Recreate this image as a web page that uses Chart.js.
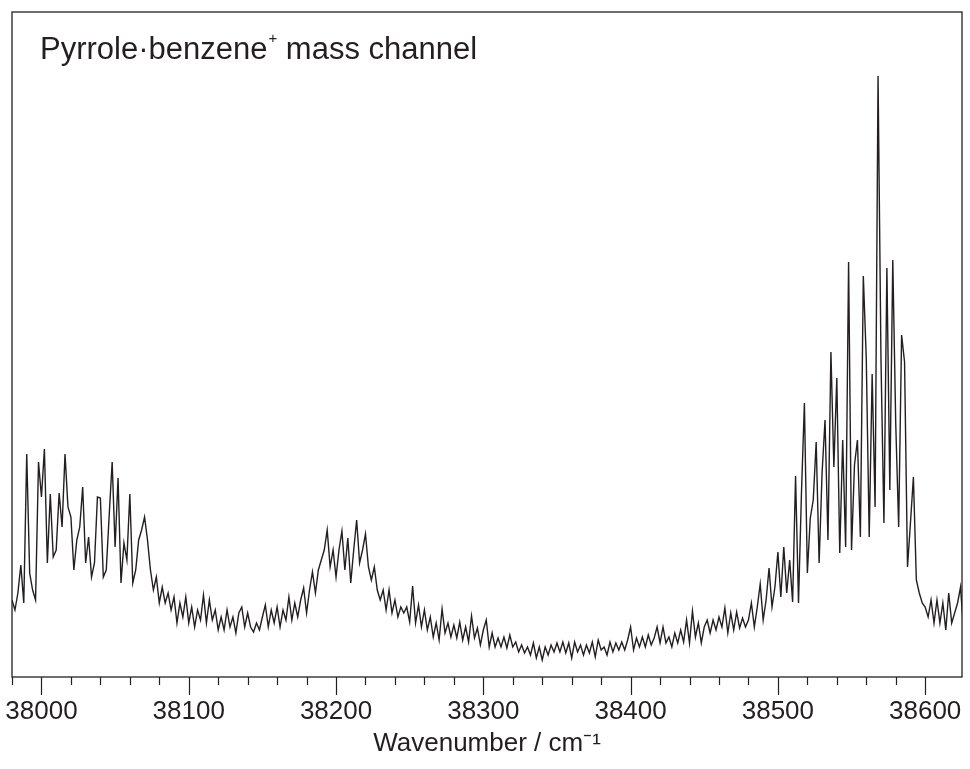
<!DOCTYPE html>
<html><head><meta charset="utf-8">
<script src="https://cdn.jsdelivr.net/npm/chart.js@4.4.0/dist/chart.umd.min.js"></script>
<style>html,body{margin:0;padding:0;background:#fff;}#wrap{width:970px;height:769px;}</style>
</head><body><div id="wrap"><canvas id="c" width="970" height="769"></canvas></div>
<script>
// Sampling grid of the spectrum (cm-1)
const wavenumberStart = 37980;
const wavenumberStep = 2;
// Ion signal (arbitrary units), segment by segment
const band1 = [77,67,84,112,74,223,104,87,77,215,180,228,114,183,120,127,184,150,223,170,160,107,137,150,190,114,140,100,114,180,179,100,107,162,215,130,199,94,134,117,183,94,107,137,147,160,137,107,87,100,74,90,74,84,67,80,54,74,60,80,54,70,50,67];
const valley1 = [57,82,54,77,57,67,47,60,47,67,50,60,44,64,70,50,64,50,45,54,47,60,72,50,67,54,70,50,67,57,80,57,74,60,77,89];
const band2 = [64,87,105,84,107,117,127,147,110,127,100,127,146,107,139,94,127,157,114,127,143,110,97,110,87,77,87,67,87,64,77,60,70];
const valley2 = [64,70,55,91,54,72,50,67,47,60,40,54,37,68,44,54,40,52,39,55,37,50,35,61,39,49,32,47,57,30,44,30,39,30,40,29,42,30,35,25,32,24,30,22,34,19,30,17,30,22,32,25,34,25,35,24,34,19,35,25,32,22,32,24,35,20,37,27];
const rise = [30,22,35,25,34,27,35,27,37,50,27,39,30,40,30,42,32,39,50,34,50,34,40,30,44,34,47,35,57,34,66,40,54,34,50,57,44,57,47,60,50,69,44,64,47,65,49,59,50,57,74,50,70,93,57,77,109,70,90,125,80,130,84,117,75];
const band3 = [201,74,184,274,104,159,177,235,114,204,257,137,325,210,299,124,237,130,415,127,212,237,140,401,319,140,303,170,601,317,154,409,187,417,254,150,342,315,110,154,200];
const tail = [97,84,74,70,60,77,54,77,54,74,47,84,54,64,74,90,47,57];
// Axis
const xMin = 37980, xMax = 38625;
const majorStep = 100, minorStep = 20;
const yMin = 0, yMax = 665;
const titleMain = 'Pyrrole\u00B7benzene', titleSup = '+', titleRest = ' mass channel';
const xAxisTitle = 'Wavenumber / cm\u207B\u00B9';

const intensity = [].concat(band1, valley1, band2, valley2, rise, band3, tail);
const points = intensity.map((v, i) => ({x: wavenumberStart + i * wavenumberStep, y: v}));

const INK = '#231f20';
const FONT = '"Liberation Sans", Arial, sans-serif';

const framePlugin = {
  id: 'frame',
  afterDraw(chart) {
    const {ctx, chartArea: a} = chart;
    const xs = chart.scales.x;
    ctx.save();
    ctx.strokeStyle = INK;
    ctx.lineWidth = 1.3;
    ctx.strokeRect(a.left, a.top, a.right - a.left, a.bottom - a.top);
    ctx.lineWidth = 1.2;
    xs.ticks.forEach(t => {
      if (Math.round(t.value) % minorStep !== 0) return;
      const px = Math.round(xs.getPixelForValue(t.value)) + 0.5;
      const len = (Math.round(t.value) % majorStep === 0) ? 18 : 8;
      ctx.beginPath();
      ctx.moveTo(px, a.bottom);
      ctx.lineTo(px, a.bottom + len);
      ctx.stroke();
    });
    // title inside plot
    ctx.fillStyle = INK;
    ctx.textBaseline = 'alphabetic';
    ctx.textAlign = 'left';
    let x = a.left + 28, y = a.top + 47;
    ctx.font = '31px ' + FONT;
    ctx.fillText(titleMain, x, y);
    x += ctx.measureText(titleMain).width + 1;
    ctx.font = '15px ' + FONT;
    ctx.fillText(titleSup, x, y - 16);
    x += ctx.measureText(titleSup).width;
    ctx.font = '31px ' + FONT;
    ctx.fillText(titleRest, x, y);
    ctx.restore();
  }
};

new Chart(document.getElementById('c'), {
  type: 'line',
  data: { datasets: [{ data: points, borderColor: INK, borderWidth: 1.4, pointRadius: 0, tension: 0, fill: false }] },
  options: {
    responsive: false,
    animation: false,
    layout: { padding: { left: 12, right: 8, top: 12, bottom: 0 } },
    plugins: { legend: { display: false }, tooltip: { enabled: false } },
    scales: {
      x: {
        type: 'linear', min: xMin, max: xMax,
        grid: { display: false },
        border: { display: false },
        ticks: {
          stepSize: minorStep, autoSkip: false, maxRotation: 0,
          color: INK, padding: 11,
          font: { family: FONT, size: 26 },
          callback: v => (Math.round(v) % majorStep === 0 ? String(v) : '')
        },
        title: { display: true, text: xAxisTitle, color: INK, font: { family: FONT, size: 26 }, padding: { top: 0, bottom: 10 } },
        afterFit: s => { s.height = 92; s.paddingLeft = 0; s.paddingRight = 0; }
      },
      y: { display: false, min: yMin, max: yMax }
    }
  },
  plugins: [framePlugin]
});
</script></body></html>
